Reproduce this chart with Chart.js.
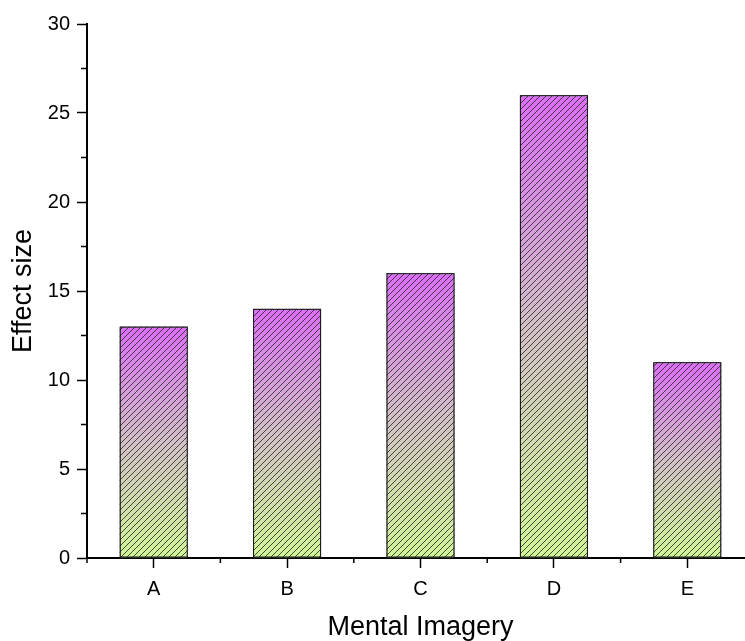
<!DOCTYPE html>
<html>
<head>
<meta charset="utf-8">
<title>Effect size by mental imagery</title>
<script src="https://cdn.jsdelivr.net/npm/chart.js@4.4.1/dist/chart.umd.min.js"></script>
<style>
    html, body { margin: 0; padding: 0; background: #fff; overflow: hidden; }
    #chartWrap { width: 760px; height: 641px; position: relative; }
</style>
</head>
<body>
<div id="chartWrap"><canvas id="barChart"></canvas></div>
<script>
const categories = ['A', 'B', 'C', 'D', 'E'];
const effectSizes = [13, 14, 16, 26, 11];
const yTicks = [0, 5, 10, 15, 20, 25, 30];

const topColor = 'rgb(220, 110, 248)';
const midColor = 'rgb(210, 192, 198)';
const bottomColor = 'rgb(208, 245, 150)';
const fontFamily = "'Liberation Sans', Arial, sans-serif";

Chart.defaults.font.family = fontFamily;
Chart.defaults.color = '#000';

//each bar gets its own vertical gradient, purple at the top down to green at the base
function barGradient(ctx) {
    const chart = ctx.chart;
    if (!chart.chartArea || ctx.raw === undefined) return topColor;
    const yScale = chart.scales.y;
    const top = yScale.getPixelForValue(ctx.raw);
    const bottom = yScale.getPixelForValue(0);
    const g = chart.ctx.createLinearGradient(0, top, 0, bottom);
    g.addColorStop(0, topColor);
    g.addColorStop(0.5, midColor);
    g.addColorStop(1, bottomColor);
    return g;
}

//diagonal hatching over every bar, then the outline again on top
const hatchPlugin = {
    id: 'hatch',
    afterDatasetsDraw(chart) {
        const ctx = chart.ctx;
        const meta = chart.getDatasetMeta(0);
        meta.data.forEach(bar => {
            const { x, y, base, width } = bar.getProps(['x', 'y', 'base', 'width'], true);
            const left = x - width / 2;
            const right = x + width / 2;
            ctx.save();
            ctx.beginPath();
            ctx.rect(left, y, width, base - y);
            ctx.clip();
            ctx.strokeStyle = 'rgba(35, 35, 35, 0.8)';
            ctx.lineWidth = 1;
            ctx.beginPath();
            const step = 6;
            const start = Math.floor((left + y) / step) * step;
            for (let c = start; c <= right + base + step; c += step) {
                ctx.moveTo(c - base, base);
                ctx.lineTo(c - y, y);
            }
            ctx.stroke();
            ctx.restore();
            ctx.save();
            ctx.strokeStyle = '#1a1a1a';
            ctx.lineWidth = 1;
            ctx.strokeRect(left + 0.5, y + 0.5, width - 1, base - y - 1);
            ctx.restore();
        });
    }
};

//short minor ticks: halfway between y labels, and on the category boundaries of x
const minorTicks = {
    id: 'minorTicks',
    afterDraw(chart) {
        const ctx = chart.ctx;
        const xs = chart.scales.x;
        const ys = chart.scales.y;
        ctx.save();
        ctx.strokeStyle = '#000';
        ctx.lineWidth = 1.5;
        ctx.beginPath();
        for (let i = 0; i < yTicks.length - 1; i++) {
            const py = ys.getPixelForValue((yTicks[i] + yTicks[i + 1]) / 2);
            ctx.moveTo(chart.chartArea.left, py);
            ctx.lineTo(chart.chartArea.left - 6, py);
        }
        const half = (xs.getPixelForValue(1) - xs.getPixelForValue(0)) / 2;
        for (let i = 0; i < categories.length; i++) {
            const px = xs.getPixelForValue(i) + half;
            ctx.moveTo(px, chart.chartArea.bottom);
            ctx.lineTo(px, chart.chartArea.bottom + 5);
        }
        const first = xs.getPixelForValue(0) - half;
        ctx.moveTo(first, chart.chartArea.bottom);
        ctx.lineTo(first, chart.chartArea.bottom + 5);
        ctx.stroke();
        ctx.restore();
    }
};

new Chart(document.getElementById('barChart'), {
    type: 'bar',
    data: {
        labels: categories,
        datasets: [{
            data: effectSizes,
            backgroundColor: barGradient,
            borderColor: '#1a1a1a',
            borderWidth: 1,
            barPercentage: 0.51,
            categoryPercentage: 1
        }]
    },
    options: {
        responsive: true,
        maintainAspectRatio: false,
        animation: false,
        layout: {
            padding: { top: 24, right: 6, left: 0, bottom: 0 }
        },
        scales: {
            x: {
                offset: true,
                border: { color: '#000', width: 2 },
                grid: {
                    offset: false,
                    drawOnChartArea: false,
                    tickLength: 10,
                    tickWidth: 1.5,
                    tickColor: '#000'
                },
                ticks: {
                    padding: 9,
                    font: { size: 20 }
                },
                title: {
                    display: true,
                    text: 'Mental Imagery',
                    font: { size: 27 },
                    padding: { top: 0, bottom: -3 }
                },
                afterFit(scale) { scale.height = 83; }
            },
            y: {
                min: 0,
                max: 30,
                border: { color: '#000', width: 2 },
                grid: {
                    drawOnChartArea: false,
                    tickLength: 10,
                    tickWidth: 1.5,
                    tickColor: '#000'
                },
                afterBuildTicks(scale) {
                    scale.ticks = yTicks.map(v => ({ value: v }));
                },
                ticks: {
                    padding: 7,
                    font: { size: 20 }
                },
                title: {
                    display: true,
                    text: 'Effect size',
                    font: { size: 27 },
                    padding: { top: 7, bottom: 0 }
                },
                afterFit(scale) { scale.width = 87; }
            }
        },
        plugins: {
            legend: { display: false },
            tooltip: { enabled: false }
        }
    },
    plugins: [hatchPlugin, minorTicks]
});
</script>
</body>
</html>
